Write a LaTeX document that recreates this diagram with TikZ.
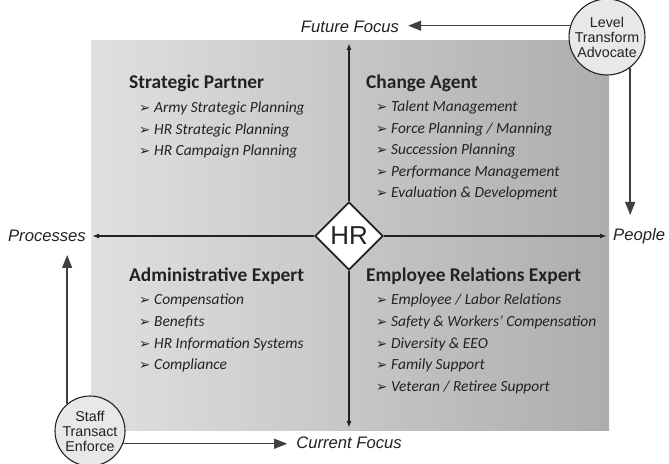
\documentclass[tikz,border=0pt]{standalone}
\usepackage{fontspec}
\setmainfont{Carlito}
\newfontfamily\arialfont{Liberation Sans}
\newfontfamily\symfont{DejaVu Sans}
\usetikzlibrary{arrows.meta,shapes.geometric,positioning}
\definecolor{inkgray}{HTML}{222222}
\definecolor{panellight}{HTML}{E0E0E0}
\definecolor{paneldark}{HTML}{ADADAD}
\newcommand{\bul}{\makebox[15bp][l]{\symfont\fontsize{13.5}{14}\selectfont ➢}}
\tikzset{
  heading/.style={anchor=base west, inner sep=0pt, text=inkgray, font=\bfseries\fontsize{19.5}{22}\selectfont},
  item/.style={anchor=base west, inner sep=0pt, text=inkgray, font=\itshape\fontsize{15.5}{18}\selectfont},
  axislabel/.style={text=inkgray, inner xsep=6bp, inner ysep=1bp, font=\arialfont\itshape\fontsize{16.7}{19}\selectfont},
  role/.style={circle, draw=inkgray, line width=1.1pt, fill=black!9, minimum size=70bp, inner sep=0pt, align=center, text=inkgray, font=\arialfont\fontsize{14.3}{15}\selectfont},
  axis/.style={line width=1.5pt, draw=inkgray, -{Latex[length=7bp,width=5bp]}},
  focus/.style={line width=1.4pt, draw=black!75, -{Triangle[length=13bp,width=10bp]}},
}

\begin{document}
\begin{tikzpicture}[x=1bp,y=-1bp]
\useasboundingbox (0,0) rectangle (669,464);
% panel
\shade[left color=panellight, right color=paneldark] (91,41) rectangle (609,430);

% HR centre and the two axes
\node[diamond, draw=inkgray, line width=1.8pt, fill=white, minimum width=68bp, minimum height=68bp, inner sep=0pt, text=inkgray, font=\arialfont\fontsize{26}{28}\selectfont] (hr) at (349,236) {HR};
\coordinate (uptip) at (349,43);
\coordinate (downtip) at (349,428);
\coordinate (lefttip) at (92,236);
\coordinate (righttip) at (607,236);
\draw[axis] (hr.north) -- (uptip);
\draw[axis] (hr.south) -- (downtip);
\draw[axis] (hr.west) -- (lefttip);
\draw[axis] (hr.east) -- (righttip);

\node[axislabel, left=0bp of lefttip] (processes) {Processes};
\node[axislabel, right=0bp of righttip] (people) {People};
\node[axislabel, inner xsep=9bp] (future) at (350,27) {Future Focus};
\node[axislabel, inner xsep=9bp] (current) at (349,443) {Current Focus};

% level circles
\node[role] (lvl) at (607,37) {Level\\Transform\\Advocate};
\node[role] (staff) at (90,431) {Staff\\Transact\\Enforce};
\coordinate (peopletip) at (628,215);
\coordinate (proctip) at (69,255);
\draw[focus] (lvl.163) -- (lvl.163 -| future.east);
\draw[focus] (lvl.-53) -- (lvl.-53 |- peopletip);
\draw[focus] (staff.130) -- (staff.130 |- proctip);
\draw[focus] (staff.-21) -- (staff.-21 -| current.west);

% quadrants
\node[heading] (sp) at (129,89) {Strategic Partner};
\foreach \txt [count=\i] in {Army Strategic Planning, HR Strategic Planning, HR Campaign Planning}
  \node[item] (sp\i) at (139,91.5+21.5*\i) {\bul\txt};

\node[heading] (ca) at (366,89) {Change Agent};
\foreach \txt [count=\i] in {Talent Management, Force Planning / Manning, Succession Planning, Performance Management, Evaluation \& Development}
  \node[item] (ca\i) at (376,90.5+21.5*\i) {\bul\txt};

\node[heading] (ae) at (129,282) {Administrative Expert};
\foreach \txt [count=\i] in {Compensation, Benefits, HR Information Systems, Compliance}
  \node[item] (ae\i) at (139,283.5+21.5*\i) {\bul\txt};

\node[heading] (er) at (366,282) {Employee Relations Expert};
\foreach \txt [count=\i] in {Employee / Labor Relations, Safety \& Workers’ Compensation, Diversity \& EEO, Family Support, Veteran / Retiree Support}
  \node[item] (er\i) at (376,283.5+21.5*\i) {\bul\txt};
\end{tikzpicture}
\end{document}
